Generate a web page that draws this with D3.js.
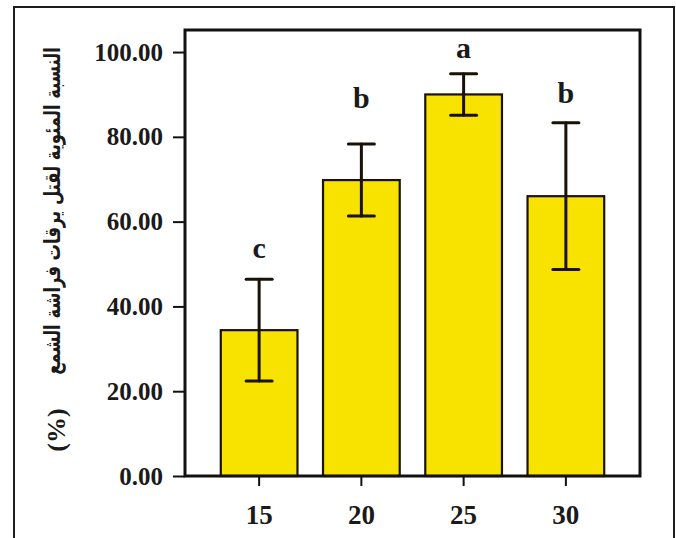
<!DOCTYPE html>
<html>
<head>
<meta charset="utf-8">
<script src="https://cdn.jsdelivr.net/npm/d3@7"></script>
<style>
  html, body { margin: 0; padding: 0; background: #fff; }
  svg { display: block; }
</style>
</head>
<body>
<svg id="chart" width="676" height="538"></svg>
<script>
// Temperature treatments (°C) and mean larval mortality (%) with error
const categories = ["15", "20", "25", "30"];
const meanValues = [34.4, 69.8, 90.0, 66.0];
const errorValues = [12.0, 8.5, 4.9, 17.3];
const groupLetters = ["c", "b", "a", "b"];
// height (in % units) at which each significance letter sits
const letterLevels = [51.4, 86.8, 98.6, 88.0];
const yTickValues = [0, 20, 40, 60, 80, 100];
const yTitle = "النسبة المئوية لقتل يرقات فراشة الشمع";
const yUnit = "(%)";

const svg = d3.select("#chart");
const W = 676, H = 538;
const plot = { left: 185, right: 640, top: 30, bottom: 476 };

svg.append("rect").attr("width", W).attr("height", H).attr("fill", "#fff");

// outer frame around the whole figure
svg.append("rect")
  .attr("x", 14).attr("y", 7)
  .attr("width", 660).attr("height", 560)
  .attr("fill", "none").attr("stroke", "#1d1d1d").attr("stroke-width", 2);

const x = d3.scaleBand()
  .domain(categories)
  .range([plot.left, plot.right])
  .paddingInner(0.25)
  .paddingOuter(0.35);

const y = d3.scaleLinear()
  .domain([0, 105.2])
  .range([plot.bottom, plot.top]);

const data = categories.map((c, i) => ({
  cat: c, mean: meanValues[i], err: errorValues[i],
  letter: groupLetters[i], letterAt: letterLevels[i]
}));

const serif = "'Liberation Serif', 'Times New Roman', serif";

// bars
svg.append("g").selectAll("rect")
  .data(data).join("rect")
  .attr("x", d => x(d.cat))
  .attr("y", d => y(d.mean))
  .attr("width", x.bandwidth())
  .attr("height", d => y(0) - y(d.mean))
  .attr("fill", "#f8e300")
  .attr("stroke", "#1a1208").attr("stroke-width", 2.2);

// error bars
const eb = svg.append("g").attr("stroke", "#1a1208").attr("stroke-width", 3).attr("stroke-linecap", "round");
const capHalf = 13;
data.forEach(d => {
  const cx = x(d.cat) + x.bandwidth() / 2;
  eb.append("line").attr("x1", cx).attr("x2", cx)
    .attr("y1", y(d.mean + d.err)).attr("y2", y(d.mean - d.err));
  [d.mean + d.err, d.mean - d.err].forEach(v => {
    eb.append("line").attr("x1", cx - capHalf).attr("x2", cx + capHalf)
      .attr("y1", y(v)).attr("y2", y(v));
  });
});

// significance letters
svg.append("g").selectAll("text")
  .data(data).join("text")
  .attr("x", d => x(d.cat) + x.bandwidth() / 2)
  .attr("y", d => y(d.letterAt))
  .attr("text-anchor", "middle")
  .attr("font-family", serif).attr("font-weight", "bold")
  .attr("font-size", 30).attr("fill", "#1a1a1a")
  .text(d => d.letter);

// plot frame
svg.append("rect")
  .attr("x", plot.left).attr("y", plot.top)
  .attr("width", plot.right - plot.left).attr("height", plot.bottom - plot.top)
  .attr("fill", "none").attr("stroke", "#111").attr("stroke-width", 3);

// y axis
const yAxis = svg.append("g")
  .attr("transform", `translate(${plot.left},0)`)
  .call(d3.axisLeft(y).tickValues(yTickValues).tickFormat(d3.format(".2f")).tickSize(12).tickPadding(10));
yAxis.select(".domain").remove();
yAxis.selectAll("line").attr("stroke", "#111").attr("stroke-width", 2);
yAxis.selectAll("text")
  .attr("font-family", serif).attr("font-weight", "bold")
  .attr("font-size", 25).attr("fill", "#1a1a1a");

// x axis
const xAxis = svg.append("g")
  .attr("transform", `translate(0,${plot.bottom})`)
  .call(d3.axisBottom(x).tickSize(10).tickPadding(19));
xAxis.select(".domain").remove();
xAxis.selectAll("line").attr("stroke", "#111").attr("stroke-width", 2);
xAxis.selectAll("text")
  .attr("font-family", serif).attr("font-weight", "bold")
  .attr("font-size", 27).attr("fill", "#1a1a1a");

// y axis title (Arabic, rotated, condensed to fit the column) and unit
const titleLen = 328;
const title = svg.append("text")
  .attr("text-anchor", "middle").attr("dy", "0.35em")
  .attr("font-family", "'DejaVu Sans', 'Noto Sans', sans-serif").attr("font-weight", "bold")
  .attr("font-size", 22).attr("fill", "#1a1a1a")
  .attr("direction", "rtl")
  .text(yTitle);
const natural = title.node().getComputedTextLength() || titleLen;
title.attr("transform", `translate(52,211) rotate(-90) scale(${titleLen / natural},1)`);

svg.append("text")
  .attr("transform", "translate(56,430) rotate(-90)")
  .attr("text-anchor", "middle").attr("dy", "0.35em")
  .attr("font-family", serif).attr("font-weight", "bold")
  .attr("font-size", 26).attr("fill", "#1a1a1a")
  .text(yUnit);
</script>
</body>
</html>
